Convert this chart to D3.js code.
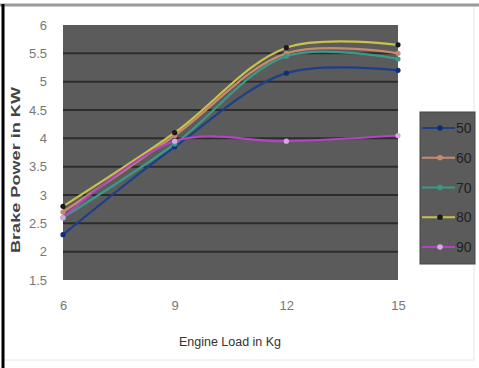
<!DOCTYPE html>
<html><head><meta charset="utf-8">
<script src="https://cdn.jsdelivr.net/npm/d3@7"></script>
<style>body{margin:0;background:#fff;}svg{display:block;}</style>
</head><body>
<svg id="c" width="479" height="368"></svg>
<script>
const loads = [6, 9, 12, 15];
const seriesNames = ["50", "60", "70", "80", "90"];
const s50 = [2.3, 3.85, 5.15, 5.2];
const s60 = [2.7, 4.05, 5.5, 5.5];
const s70 = [2.6, 3.9, 5.45, 5.4];
const s80 = [2.8, 4.1, 5.6, 5.65];
const s90 = [2.6, 3.95, 3.95, 4.05];
const yTicks = [1.5, 2, 2.5, 3, 3.5, 4, 4.5, 5, 5.5, 6];
const colors = ["#1d3f8a", "#c98a6c", "#3a9a88", "#c9c24a", "#b045c0"];
const markerColors = ["#0f2f7a", "#c98a6c", "#3a9a88", "#1a1a1a", "#d6a8e8"];
const allSeries = [s50, s60, s70, s80, s90];
const FONT = "Liberation Sans Narrow, Liberation Sans, sans-serif";

const svg = d3.select("#c");
// frame
svg.append("rect").attr("x",4).attr("y",5).attr("width",470).attr("height",355)
  .attr("fill","#fff").attr("stroke","#e6e6e6").attr("stroke-width",1);
svg.append("line").attr("x1",0).attr("x2",479).attr("y1",5).attr("y2",5)
  .attr("stroke","#9a9a9a").attr("stroke-width",3);
svg.append("line").attr("x1",3).attr("x2",3).attr("y1",4).attr("y2",368)
  .attr("stroke","#000").attr("stroke-width",3);

const x = d3.scaleLinear().domain([6, 15]).range([63, 398]);
const y = d3.scaleLinear().domain([1.5, 6]).range([280, 25]);

// plot area
svg.append("rect").attr("x",63).attr("y",25).attr("width",335).attr("height",255)
  .attr("fill","#5b5b5b");
// gridlines
svg.append("g").selectAll("line").data(yTicks.filter(t=>t>1.5&&t<6)).join("line")
  .attr("x1",63).attr("x2",398).attr("y1",d=>y(d)).attr("y2",d=>y(d))
  .attr("stroke","#2c2c2c").attr("stroke-width",2);

// axes
const ya = svg.append("g").attr("transform","translate(50,0)")
  .call(d3.axisLeft(y).tickValues(yTicks).tickSize(0).tickFormat(d3.format("")));
ya.select(".domain").remove();
ya.selectAll("text").attr("fill","#777").attr("font-family",FONT).attr("font-size",13);

const xa = svg.append("g").attr("transform","translate(0,298)")
  .call(d3.axisBottom(x).tickValues(loads).tickSize(0).tickFormat(d3.format("")));
xa.select(".domain").remove();
xa.selectAll("text").attr("fill","#777").attr("font-family",FONT).attr("font-size",13);

svg.append("text").attr("x",230).attr("y",346).attr("text-anchor","middle")
  .attr("font-family",FONT).attr("font-size",12.5)
  .attr("fill","#333").text("Engine Load in Kg");
svg.append("text").attr("transform","translate(20,170) rotate(-90)").attr("text-anchor","middle")
  .attr("font-family","Liberation Sans, sans-serif").attr("font-size",12).attr("font-weight","bold")
  .attr("textLength",166).attr("lengthAdjust","spacingAndGlyphs")
  .attr("fill","#444").text("Brake Power in KW");

// lines
const line = d3.line().x((d,i)=>x(loads[i])).y(d=>y(d)).curve(d3.curveCatmullRom.alpha(0.5));
const g = svg.append("g");
allSeries.forEach((s,k)=>{
  g.append("path").attr("d",line(s)).attr("fill","none").attr("stroke",colors[k]).attr("stroke-width",2.2);
});
allSeries.forEach((s,k)=>{
  g.selectAll(null).data(s).join("circle")
    .attr("cx",(d,i)=>x(loads[i])).attr("cy",d=>y(d)).attr("r",2.6)
    .attr("fill",markerColors[k]);
});

// legend
const lg = svg.append("g");
lg.append("rect").attr("x",420).attr("y",112).attr("width",55).attr("height",152)
  .attr("fill","#5b5b5b").attr("stroke","#444").attr("stroke-width",1);
const ly = d3.scalePoint().domain(seriesNames).range([128,247]);
seriesNames.forEach((n,k)=>{
  lg.append("line").attr("x1",422).attr("x2",455).attr("y1",ly(n)).attr("y2",ly(n))
    .attr("stroke",colors[k]).attr("stroke-width",2);
  lg.append("circle").attr("cx",440).attr("cy",ly(n)).attr("r",2.8).attr("fill",markerColors[k]);
  lg.append("text").attr("x",456).attr("y",ly(n)+5).attr("font-size",14)
    .attr("font-family",FONT).attr("fill","#222").text(n);
});
</script>
</body></html>
